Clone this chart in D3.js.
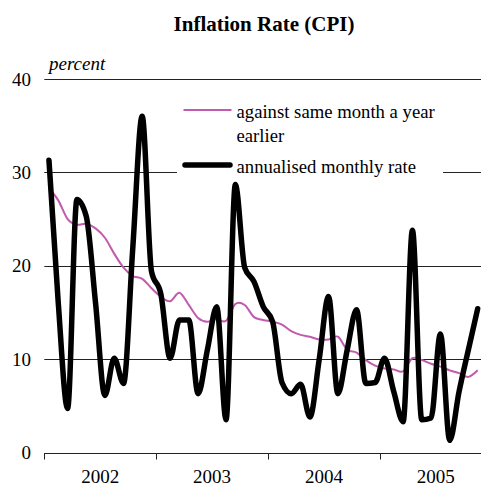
<!DOCTYPE html>
<html><head><meta charset="utf-8">
<script src="https://cdn.jsdelivr.net/npm/d3@7"></script>
<style>body{margin:0;background:#fff} svg{display:block}</style>
</head><body>
<svg id="c" width="481" height="485"></svg>
<script>
// ---- data ----
const years = ["2002", "2003", "2004", "2005"];
const monthNames = ["Jan","Feb","Mar","Apr","May","Jun","Jul","Aug","Sep","Oct","Nov","Dec"];
const yTicks = [0, 10, 20, 30, 40];
// against same month a year earlier (Jan 2002 - Nov 2005)
const yoy = [28.3,27.0,25.0,24.4,24.5,24.0,23.0,21.3,19.8,18.9,18.6,17.6,
             16.7,16.2,17.1,15.8,14.4,14.0,14.3,14.1,15.9,15.8,14.5,14.2,
             14.0,13.7,13.0,12.6,12.4,12.1,12.1,12.4,11.0,10.7,9.9,9.3,
             9.0,8.9,8.7,10.1,9.9,9.5,9.2,8.8,8.5,8.1,8.8];
// annualised monthly rate
const annual = [31.3,16.0,4.7,27.1,25.3,16.0,6.1,10.1,7.4,22.0,36.0,19.4,
                17.0,10.1,14.2,14.2,6.3,11.0,15.6,3.5,28.7,19.8,18.3,15.6,
                14.0,7.5,6.3,7.3,3.8,10.0,16.7,6.3,11.0,15.3,7.4,7.5,
                10.1,6.5,3.3,23.8,3.5,3.7,12.7,1.3,6.5,11.0,15.4];
const seriesNames = ["against same month a year", "earlier", "annualised monthly rate"];

// ---- chart ----
const months = [];
years.forEach(yr => monthNames.forEach(m => months.push(yr + "-" + m)));

const svg = d3.select("#c");
const plotLeft = 44.3, band = 9.32, plotBottom = 452.5, plotTop = 79;
const x = d3.scaleBand().domain(months).range([plotLeft, plotLeft + months.length * band]).padding(0);
const y = d3.scaleLinear().domain([0, 40]).range([plotBottom, plotTop]);
const cx = i => x(months[i]) + x.bandwidth() / 2;

const serif = "'Liberation Serif', 'Times New Roman', serif";

// title
svg.append("text").attr("x", 264).attr("y", 31).attr("text-anchor", "middle")
  .style("font-family", serif).style("font-weight", "bold").style("font-size", "21px")
  .text("Inflation Rate (CPI)");

// percent
svg.append("text").attr("x", 49).attr("y", 70)
  .style("font-family", serif).style("font-style", "italic").style("font-size", "19px")
  .text("percent");

// gridlines
svg.append("g").selectAll("line").data(yTicks.filter(d => d > 0)).join("line")
  .attr("x1", plotLeft).attr("x2", 481)
  .attr("y1", d => Math.round(y(d)) + 0.5).attr("y2", d => Math.round(y(d)) + 0.5)
  .attr("stroke", "#222").attr("stroke-width", 1);

// y labels
svg.append("g").selectAll("text").data(yTicks).join("text")
  .attr("x", 31).attr("y", d => y(d) + 6.5).attr("text-anchor", "end")
  .style("font-family", serif).style("font-size", "19px")
  .text(d => d);

// x axis
svg.append("line").attr("x1", plotLeft).attr("x2", 481)
  .attr("y1", Math.round(plotBottom) + 0.5).attr("y2", Math.round(plotBottom) + 0.5)
  .attr("stroke", "#222");
const yearStarts = years.map(yr => yr + "-Jan");
svg.append("g").selectAll("line").data(yearStarts).join("line")
  .attr("x1", d => Math.round(x(d)) + 0.5)
  .attr("x2", d => Math.round(x(d)) + 0.5)
  .attr("y1", Math.round(plotBottom)).attr("y2", Math.round(plotBottom) + 6.5)
  .attr("stroke", "#222");
svg.append("g").selectAll("text").data(years).join("text")
  .attr("x", yr => x(yr + "-Jul"))
  .attr("y", 482.5).attr("text-anchor", "middle")
  .style("font-family", serif).style("font-size", "19px")
  .text(d => d);

// legend background (covers gridline)
svg.append("rect").attr("x", 177).attr("y", 88).attr("width", 266).attr("height", 92).attr("fill", "#fff");

const pinkGen = d3.line().x((d, i) => cx(i)).y(d => y(d)).curve(d3.curveCardinal.tension(0));
const blackGen = d3.line().x((d, i) => cx(i)).y(d => y(d)).curve(d3.curveMonotoneX);

svg.append("path").datum(yoy).attr("d", pinkGen)
  .attr("fill", "none").attr("stroke", "#c25aae").attr("stroke-width", 2);
svg.append("path").datum(annual).attr("d", blackGen)
  .attr("fill", "none").attr("stroke", "#000").attr("stroke-width", 5.5)
  .attr("stroke-linejoin", "round").attr("stroke-linecap", "round");

// legend
const lg = svg.append("g");
lg.append("line").attr("x1", 183.5).attr("x2", 231.5).attr("y1", 110).attr("y2", 110)
  .attr("stroke", "#c25aae").attr("stroke-width", 2);
lg.append("line").attr("x1", 185).attr("x2", 230).attr("y1", 165).attr("y2", 165)
  .attr("stroke", "#000").attr("stroke-width", 5.5).attr("stroke-linecap", "round");
[[seriesNames[0], 118.3], [seriesNames[1], 141.7], [seriesNames[2], 173.3]].forEach(([t, yy]) => {
  lg.append("text").attr("x", 236.5).attr("y", yy)
    .style("font-family", serif).style("font-size", "18.7px").text(t);
});
</script>
</body></html>
